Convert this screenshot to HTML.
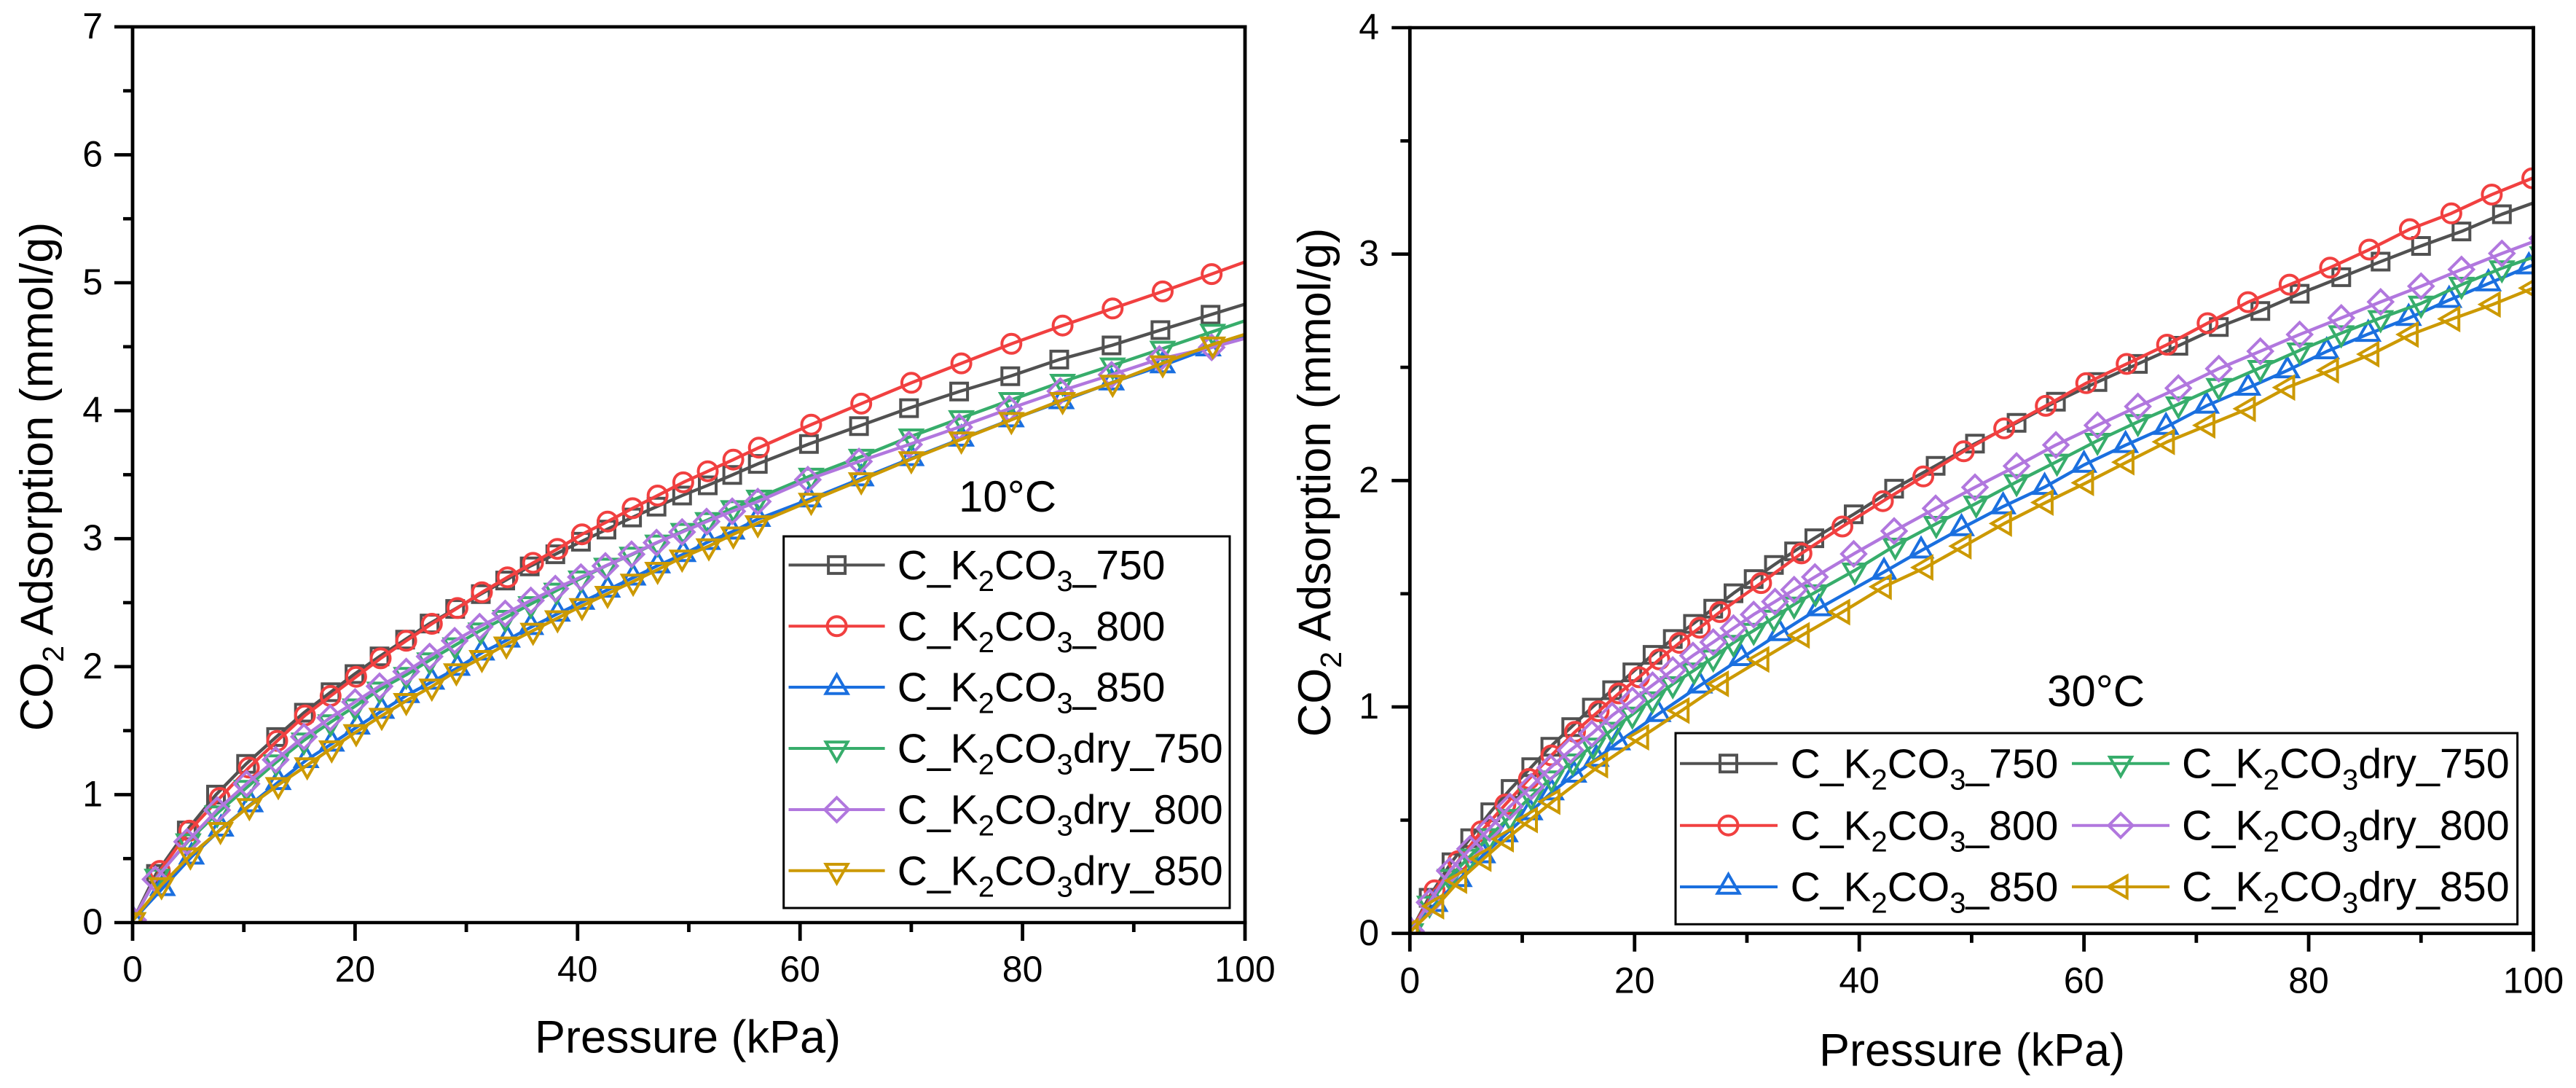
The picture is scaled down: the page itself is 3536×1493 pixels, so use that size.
<!DOCTYPE html>
<html lang="en">
<head>
<meta charset="utf-8">
<title>CO2 adsorption isotherms at 10°C and 30°C</title>
<style>
html,body{margin:0;padding:0;background:#fff;}
svg{display:block;}
text{font-family:"Liberation Sans",Arial,sans-serif;fill:#000;}
.tick{font-size:50px;}
.axt{font-size:63px;}
.ann{font-size:60px;}
.lg{font-size:57px;}
.lg2{font-size:57.4px;}
</style>
</head>
<body>
<svg id="figure" xmlns="http://www.w3.org/2000/svg" width="3536" height="1493" viewBox="0 0 3536 1493">
<rect width="3536" height="1493" fill="#ffffff"/>
<defs>
<clipPath id="clip-left"><rect x="182" y="37.3" width="1527" height="1228.7"/></clipPath>
<clipPath id="clip-right"><rect x="1935.3" y="38" width="1542.2" height="1242.8"/></clipPath>
</defs>

<g id="left-series" clip-path="url(#clip-left)"></g>
<g id="left-axes"></g>
<g id="right-series" clip-path="url(#clip-right)"></g>
<g id="right-axes"></g>

<text class="axt" x="944" y="1444.6" text-anchor="middle">Pressure (kPa)</text>
<text class="axt" x="2707" y="1462.5" text-anchor="middle">Pressure (kPa)</text>
<text class="axt" transform="translate(72 654) rotate(-90)" text-anchor="middle">CO<tspan font-size="41" dy="15">2</tspan><tspan dy="-15"> Adsorption (mmol/g)</tspan></text>
<text class="axt" transform="translate(1826 662) rotate(-90)" text-anchor="middle">CO<tspan font-size="41" dy="15">2</tspan><tspan dy="-15"> Adsorption (mmol/g)</tspan></text>

<text class="ann" x="1383" y="702" text-anchor="middle">10°C</text>
<text class="ann" x="2877" y="969" text-anchor="middle">30°C</text>

<g>
<rect x="1075.7" y="736" width="612.3" height="510" fill="#fff" stroke="#000" stroke-width="3"/>
<g>
<line x1="1082.5" x2="1214.6" y1="775.4" y2="775.4" stroke="#515151" stroke-width="4"/>
<path transform="translate(1148.6 775.4)" d="M-11.5-11.5H11.5V11.5H-11.5Z" fill="none" stroke="#515151" stroke-width="4"/>
<text class="lg" x="1231.8" y="795">C_K<tspan font-size="40" dy="16">2</tspan><tspan dy="-16">CO</tspan><tspan font-size="40" dy="16">3</tspan><tspan dy="-16">_750</tspan></text>
</g>
<g>
<line x1="1082.5" x2="1214.6" y1="859.3" y2="859.3" stroke="#F14040" stroke-width="4"/>
<circle cx="1148.6" cy="859.3" r="13" fill="none" stroke="#F14040" stroke-width="4"/>
<text class="lg" x="1231.8" y="879">C_K<tspan font-size="40" dy="16">2</tspan><tspan dy="-16">CO</tspan><tspan font-size="40" dy="16">3</tspan><tspan dy="-16">_800</tspan></text>
</g>
<g>
<line x1="1082.5" x2="1214.6" y1="943" y2="943" stroke="#1A6FDF" stroke-width="4"/>
<path transform="translate(1148.6 943)" d="M0-17.3L15 8.7H-15Z" fill="none" stroke="#1A6FDF" stroke-width="4"/>
<text class="lg" x="1231.8" y="962.6">C_K<tspan font-size="40" dy="16">2</tspan><tspan dy="-16">CO</tspan><tspan font-size="40" dy="16">3</tspan><tspan dy="-16">_850</tspan></text>
</g>
<g>
<line x1="1082.5" x2="1214.6" y1="1027" y2="1027" stroke="#37AD6B" stroke-width="4"/>
<path transform="translate(1148.6 1027)" d="M0 17.3L15-8.7H-15Z" fill="none" stroke="#37AD6B" stroke-width="4"/>
<text class="lg" x="1231.8" y="1046.6">C_K<tspan font-size="40" dy="16">2</tspan><tspan dy="-16">CO</tspan><tspan font-size="40" dy="16">3</tspan><tspan dy="-16">dry_750</tspan></text>
</g>
<g>
<line x1="1082.5" x2="1214.6" y1="1111" y2="1111" stroke="#B177DE" stroke-width="4"/>
<path transform="translate(1148.6 1111)" d="M0-16.5L16.5 0L0 16.5L-16.5 0Z" fill="none" stroke="#B177DE" stroke-width="4"/>
<text class="lg" x="1231.8" y="1130.6">C_K<tspan font-size="40" dy="16">2</tspan><tspan dy="-16">CO</tspan><tspan font-size="40" dy="16">3</tspan><tspan dy="-16">dry_800</tspan></text>
</g>
<g>
<line x1="1082.5" x2="1214.6" y1="1194.7" y2="1194.7" stroke="#CC9900" stroke-width="4"/>
<path transform="translate(1148.6 1194.7)" d="M0 17.3L15-8.7H-15Z" fill="none" stroke="#CC9900" stroke-width="4"/>
<text class="lg" x="1231.8" y="1214.3">C_K<tspan font-size="40" dy="16">2</tspan><tspan dy="-16">CO</tspan><tspan font-size="40" dy="16">3</tspan><tspan dy="-16">dry_850</tspan></text>
</g>
</g>

<g>
<rect x="2300" y="1006" width="1155.6" height="262.3" fill="#fff" stroke="#000" stroke-width="3"/>
<g>
<line x1="2306" x2="2440" y1="1047.7" y2="1047.7" stroke="#515151" stroke-width="4"/>
<path transform="translate(2372.5 1047.7)" d="M-11.5-11.5H11.5V11.5H-11.5Z" fill="none" stroke="#515151" stroke-width="4"/>
<text class="lg" x="2457.6" y="1067.3">C_K<tspan font-size="40" dy="16">2</tspan><tspan dy="-16">CO</tspan><tspan font-size="40" dy="16">3</tspan><tspan dy="-16">_750</tspan></text>
</g>
<g>
<line x1="2306" x2="2440" y1="1132.7" y2="1132.7" stroke="#F14040" stroke-width="4"/>
<circle cx="2372.5" cy="1132.7" r="13" fill="none" stroke="#F14040" stroke-width="4"/>
<text class="lg" x="2457.6" y="1152.3">C_K<tspan font-size="40" dy="16">2</tspan><tspan dy="-16">CO</tspan><tspan font-size="40" dy="16">3</tspan><tspan dy="-16">_800</tspan></text>
</g>
<g>
<line x1="2306" x2="2440" y1="1217" y2="1217" stroke="#1A6FDF" stroke-width="4"/>
<path transform="translate(2372.5 1217)" d="M0-17.3L15 8.7H-15Z" fill="none" stroke="#1A6FDF" stroke-width="4"/>
<text class="lg" x="2457.6" y="1236.6">C_K<tspan font-size="40" dy="16">2</tspan><tspan dy="-16">CO</tspan><tspan font-size="40" dy="16">3</tspan><tspan dy="-16">_850</tspan></text>
</g>
<g>
<line x1="2844" x2="2978" y1="1047.7" y2="1047.7" stroke="#37AD6B" stroke-width="4"/>
<path transform="translate(2911 1047.7)" d="M0 17.3L15-8.7H-15Z" fill="none" stroke="#37AD6B" stroke-width="4"/>
<text class="lg2" x="2995" y="1067.3">C_K<tspan font-size="40" dy="16">2</tspan><tspan dy="-16">CO</tspan><tspan font-size="40" dy="16">3</tspan><tspan dy="-16">dry_750</tspan></text>
</g>
<g>
<line x1="2844" x2="2978" y1="1132.7" y2="1132.7" stroke="#B177DE" stroke-width="4"/>
<path transform="translate(2911 1132.7)" d="M0-16.5L16.5 0L0 16.5L-16.5 0Z" fill="none" stroke="#B177DE" stroke-width="4"/>
<text class="lg2" x="2995" y="1152.3">C_K<tspan font-size="40" dy="16">2</tspan><tspan dy="-16">CO</tspan><tspan font-size="40" dy="16">3</tspan><tspan dy="-16">dry_800</tspan></text>
</g>
<g>
<line x1="2844" x2="2978" y1="1217" y2="1217" stroke="#CC9900" stroke-width="4"/>
<path transform="translate(2911 1217)" d="M-17.3 0L8.7-15V15Z" fill="none" stroke="#CC9900" stroke-width="4"/>
<text class="lg2" x="2995" y="1236.6">C_K<tspan font-size="40" dy="16">2</tspan><tspan dy="-16">CO</tspan><tspan font-size="40" dy="16">3</tspan><tspan dy="-16">dry_850</tspan></text>
</g>
</g>
</svg>

<script>
// Tick values
const xMajorTicks = [0, 20, 40, 60, 80, 100];
const xMinorTicks = [10, 30, 50, 70, 90];
const leftYMajorTicks = [0, 1, 2, 3, 4, 5, 6, 7];
const leftYMinorTicks = [0.5, 1.5, 2.5, 3.5, 4.5, 5.5, 6.5];
const rightYMajorTicks = [0, 1, 2, 3, 4];
const rightYMinorTicks = [0.5, 1.5, 2.5, 3.5];

// 10°C panel: pressure (kPa) and adsorption (mmol/g)
const left750P = [.05,2.1,4.87,7.5,10.2,12.9,15.4,17.8,19.95,22.2,24.5,26.7,29,31.3,33.5,35.7,38,40.3,42.6,44.9,47.1,49.4,51.7,53.9,56.2,60.8,65.3,69.8,74.3,78.9,83.3,88,92.4,96.9,101.4];
const left750Q = [.02,.38,.72,1.0,1.24,1.45,1.64,1.80,1.942,2.08,2.211,2.337,2.451,2.567,2.673,2.783,2.878,2.976,3.071,3.166,3.25,3.337,3.417,3.498,3.584,3.74,3.88,4.02,4.15,4.27,4.40,4.51,4.63,4.75,4.87];
const left800P = [.05,2.45,5.1,7.84,10.45,13,15.5,17.8,20.1,22.3,24.6,26.9,29.2,31.4,33.7,36,38.2,40.4,42.7,44.95,47.2,49.5,51.7,54,56.3,61,65.5,70,74.5,79,83.6,88.1,92.6,97,101.5];
const left800Q = [.02,.404,.718,.974,1.211,1.42,1.619,1.771,1.921,2.065,2.202,2.335,2.458,2.581,2.698,2.811,2.92,3.034,3.134,3.238,3.337,3.44,3.527,3.618,3.711,3.891,4.055,4.218,4.37,4.523,4.666,4.799,4.932,5.068,5.21];
const left850P = [.05,2.7,5.3,7.95,10.6,13.1,15.6,17.9,20.2,22.4,24.65,26.9,29.2,31.4,33.7,35.8,38.2,40.4,42.7,45,47.2,49.5,51.7,53.9,56.2,60.8,65.5,70,74.5,79,83.5,88,92.6,96.7,101.2];
const left850Q = [.02,.268,.514,.733,.923,1.097,1.268,1.397,1.53,1.653,1.777,1.881,1.989,2.109,2.21,2.308,2.413,2.505,2.60,2.695,2.79,2.878,2.973,3.054,3.153,3.305,3.47,3.628,3.78,3.931,4.073,4.22,4.353,4.486,4.62];
const leftDry750P = [.05,2.2,5,7.6,10.24,12.9,15.4,17.8,20,22.2,24.6,26.7,29,31.3,33.5,35.8,38.1,40.3,42.6,44.9,47.2,49.5,51.7,54,56.3,61,65.5,70,74.5,79,83.6,88.1,92.6,97.1,101.6];
const leftDry750Q = [.02,.36,.636,.854,1.054,1.253,1.424,1.566,1.69,1.822,1.936,2.05,2.168,2.284,2.382,2.49,2.595,2.69,2.79,2.876,2.971,3.062,3.147,3.24,3.322,3.493,3.641,3.80,3.943,4.085,4.227,4.355,4.486,4.618,4.75];
const leftDry800P = [.05,2.05,4.9,7.6,10.24,12.86,15.4,17.77,20,22.2,24.6,26.7,28.95,31.2,33.5,35.8,38,40.3,42.5,44.85,47.1,49.4,51.6,53.9,56.2,60.7,65.3,69.8,74.3,78.8,83.4,88,92.3,97,101.5];
const leftDry800Q = [.02,.338,.632,.879,1.084,1.272,1.452,1.6,1.724,1.847,1.961,2.079,2.202,2.312,2.416,2.517,2.61,2.70,2.787,2.878,2.969,3.052,3.134,3.214,3.29,3.461,3.603,3.736,3.872,4.015,4.153,4.281,4.404,4.495,4.60];
const leftDry850P = [.05,2.6,5.2,7.9,10.5,13.1,15.7,17.9,20.1,22.4,24.6,26.9,29.1,31.4,33.6,36,38.2,40.4,42.7,45,47.2,49.4,51.8,54,56.2,61,65.5,70,74.5,79,83.6,88.1,92.6,97.1,101.6];
const leftDry850Q = [.02,.294,.526,.725,.911,1.076,1.23,1.363,1.49,1.617,1.733,1.845,1.965,2.069,2.174,2.282,2.379,2.475,2.57,2.665,2.758,2.853,2.942,3.034,3.122,3.297,3.458,3.622,3.777,3.929,4.085,4.22,4.372,4.518,4.64];

// 30°C panel: pressure (kPa) and adsorption (mmol/g)
const right750P = [.1,1.67,3.7,5.37,7.16,8.97,10.8,12.5,14.36,16.2,18,19.8,21.6,23.4,25.2,27,28.8,30.6,32.4,34.2,36,39.5,43.1,46.8,50.3,54,57.5,61.2,64.8,68.4,72,75.7,79.2,82.9,86.4,90,93.6,97.2,100.8];
const right750Q = [.01,.157,.314,.42,.535,.638,.734,.824,.911,.997,1.074,1.153,1.23,1.30,1.367,1.434,1.502,1.565,1.627,1.687,1.745,1.851,1.964,2.065,2.163,2.255,2.348,2.435,2.515,2.595,2.678,2.749,2.825,2.898,2.967,3.036,3.10,3.176,3.24];
const right800P = [.1,2.2,4.3,6.36,8.5,10.6,12.6,14.7,16.8,18.6,20.4,22.2,24,25.8,27.6,31.26,34.85,38.5,42.1,45.7,49.3,52.9,56.6,60.2,63.8,67.4,71,74.6,78.3,81.9,85.4,89,92.7,96.3,99.9,103.5];
const right800Q = [.01,.19,.319,.451,.569,.682,.786,.89,.981,1.06,1.131,1.21,1.283,1.35,1.419,1.547,1.678,1.797,1.909,2.018,2.129,2.23,2.33,2.43,2.515,2.60,2.695,2.788,2.865,2.94,3.02,3.11,3.18,3.263,3.335,3.41];
const right850P = [.1,2.25,4.4,6.5,8.5,10.7,12.6,14.6,16.6,18.5,22.1,25.8,29.5,32.9,36.4,42.2,45.5,49.1,52.8,56.5,60,63.7,67.3,70.9,74.6,78.1,81.6,85.3,88.9,92.5,96,99.6,103.2];
const right850Q = [.01,.129,.239,.344,.437,.534,.622,.70,.77,.843,.968,1.094,1.215,1.325,1.435,1.596,1.69,1.789,1.885,1.971,2.069,2.156,2.236,2.33,2.409,2.486,2.57,2.647,2.717,2.797,2.870,2.945,3.01];
const rightDry750P = [.1,1.75,3.55,5.35,7.1,8.9,10.8,12.6,14.5,16.3,18,19.8,21.6,23.4,25.3,27,28.8,30.6,32.4,34.2,36.1,39.6,43.2,46.85,50.4,54,57.6,61.2,64.8,68.4,72,75.7,79.2,82.9,86.4,90,93.6,97.2,100.8];
const rightDry750Q = [.01,.132,.25,.34,.43,.515,.605,.685,.76,.83,.90,.967,1.034,1.101,1.162,1.219,1.284,1.337,1.395,1.453,1.507,1.603,1.713,1.809,1.899,1.994,2.084,2.176,2.259,2.337,2.418,2.498,2.575,2.651,2.718,2.782,2.865,2.938,3.0];
const rightDry800P = [.1,1.75,3.55,5.35,7.1,8.9,10.8,12.5,14.3,16.2,18,19.8,21.6,23.4,25.2,27,28.8,30.6,32.5,34.2,36.05,39.5,43.1,46.8,50.3,54,57.5,61.2,64.8,68.4,72,75.7,79.2,82.9,86.4,90,93.6,97.2,100.8];
const rightDry800Q = [.01,.137,.276,.373,.464,.560,.648,.732,.809,.882,.962,1.029,1.096,1.163,1.227,1.286,1.348,1.408,1.465,1.518,1.574,1.676,1.777,1.877,1.970,2.064,2.157,2.244,2.327,2.408,2.494,2.571,2.645,2.718,2.789,2.858,2.932,3.003,3.07];
const rightDry850P = [.1,2.36,4.4,6.57,8.56,10.7,12.7,16.95,20.6,24.2,27.7,31.3,34.9,38.5,42.2,45.9,49.3,52.9,56.6,60.2,63.8,67.4,71,74.6,78.1,82,85.6,89.1,92.8,96.4,100,103.6];
const rightDry850Q = [.01,.12,.233,.33,.416,.501,.582,.743,.866,.984,1.102,1.21,1.316,1.419,1.531,1.616,1.71,1.81,1.903,1.99,2.081,2.171,2.244,2.317,2.411,2.487,2.558,2.645,2.714,2.778,2.85,2.92];

const SVG_NS = 'http://www.w3.org/2000/svg';

// Axis functions
function leftX(v) { return 182 + v * 15.27; }
function leftY(v) { return 1266 - v * 175.6; }
function rightX(v) { return 1935.3 + v * 15.422; }
function rightY(v) { return 1280.8 - v * 310.7; }

const markerPaths = {
  square: 'M-11.5-11.5H11.5V11.5H-11.5Z',
  circle: 'M-13 0A13 13 0 1 1 13 0A13 13 0 1 1-13 0Z',
  up: 'M0-17.3L15 8.7H-15Z',
  down: 'M0 17.3L15-8.7H-15Z',
  diamond: 'M0-16.5L16.5 0L0 16.5L-16.5 0Z',
  left: 'M-17.3 0L8.7-15V15Z'
};

function drawSeries(parent, key, xs, ys, color, marker, fx, fy) {
  const g = document.createElementNS(SVG_NS, 'g');
  
  
  const pts = xs.map(function (p, i) { return fx(p).toFixed(1) + ',' + fy(ys[i]).toFixed(1); }).join(' ');
  const line = document.createElementNS(SVG_NS, 'polyline');
  
  
  line.setAttribute('points', pts);
  line.setAttribute('fill', 'none');
  line.setAttribute('stroke', color);
  line.setAttribute('stroke-width', '4.4');
  line.setAttribute('stroke-linejoin', 'round');
  g.appendChild(line);
  xs.forEach(function (p, i) {
    const m = document.createElementNS(SVG_NS, 'path');
    
    
    m.setAttribute('d', markerPaths[marker]);
    m.setAttribute('transform', 'translate(' + fx(p).toFixed(1) + ' ' + fy(ys[i]).toFixed(1) + ')');
    m.setAttribute('fill', 'none');
    m.setAttribute('stroke', color);
    m.setAttribute('stroke-width', '4');
    g.appendChild(m);
  });
  parent.appendChild(g);
}

function addLine(parent, name, x1, y1, x2, y2, w) {
  const l = document.createElementNS(SVG_NS, 'line');
  
  
  l.setAttribute('x1', x1);
  l.setAttribute('y1', y1);
  l.setAttribute('x2', x2);
  l.setAttribute('y2', y2);
  l.setAttribute('stroke', '#000');
  l.setAttribute('stroke-width', w);
  parent.appendChild(l);
}

function addLabel(parent, name, x, y, anchor, value) {
  const t = document.createElementNS(SVG_NS, 'text');
  
  
  t.setAttribute('class', 'tick');
  t.setAttribute('x', x);
  t.setAttribute('y', y);
  t.setAttribute('text-anchor', anchor);
  t.textContent = String(value);
  parent.appendChild(t);
}

function drawAxes(parent, fx, fy, yMaj, yMin, yMaxVal, xLabelBase, yLabelRight) {
  const x0 = fx(0), x1 = fx(100), y0 = fy(0), yT = fy(yMaxVal);
  addLine(parent, 'top-axis-line', x0 - 25, yT, x1 + 2.4, yT, 4.6);
  addLine(parent, 'bottom-axis-line', x0 - 25, y0, x1 + 2.4, y0, 4.6);
  addLine(parent, 'y-axis-line', x0, yT - 2.3, x0, y0 + 25, 4.8);
  addLine(parent, 'right-axis-line', x1, yT - 2.3, x1, y0 + 25, 4.8);
  xMajorTicks.forEach(function (v) {
    if (v > 0 && v < 100) addLine(parent, 'x-major-tick', fx(v), y0, fx(v), y0 + 25, 4.8);
    addLabel(parent, 'x-tick-label', fx(v), xLabelBase, 'middle', v);
  });
  xMinorTicks.forEach(function (v) {
    addLine(parent, 'x-minor-tick', fx(v), y0, fx(v), y0 + 13, 4.8);
  });
  yMaj.forEach(function (v) {
    if (v > 0 && v < yMaxVal) addLine(parent, 'y-major-tick', x0 - 25, fy(v), x0, fy(v), 4.6);
    addLabel(parent, 'y-tick-label', yLabelRight, fy(v) + 16, 'end', v);
  });
  yMin.forEach(function (v) {
    addLine(parent, 'y-minor-tick', x0 - 13, fy(v), x0, fy(v), 4.6);
  });
}

const colorK750 = '#515151', colorK800 = '#F14040', colorK850 = '#1A6FDF';
const colorDry750 = '#37AD6B', colorDry800 = '#B177DE', colorDry850 = '#CC9900';

const leftSeries = document.getElementById('left-series');
drawSeries(leftSeries, 'left-series-k2co3-750', left750P, left750Q, colorK750, 'square', leftX, leftY);
drawSeries(leftSeries, 'left-series-k2co3-800', left800P, left800Q, colorK800, 'circle', leftX, leftY);
drawSeries(leftSeries, 'left-series-k2co3-850', left850P, left850Q, colorK850, 'up', leftX, leftY);
drawSeries(leftSeries, 'left-series-k2co3dry-750', leftDry750P, leftDry750Q, colorDry750, 'down', leftX, leftY);
drawSeries(leftSeries, 'left-series-k2co3dry-800', leftDry800P, leftDry800Q, colorDry800, 'diamond', leftX, leftY);
drawSeries(leftSeries, 'left-series-k2co3dry-850', leftDry850P, leftDry850Q, colorDry850, 'down', leftX, leftY);

const rightSeries = document.getElementById('right-series');
drawSeries(rightSeries, 'right-series-k2co3-750', right750P, right750Q, colorK750, 'square', rightX, rightY);
drawSeries(rightSeries, 'right-series-k2co3-800', right800P, right800Q, colorK800, 'circle', rightX, rightY);
drawSeries(rightSeries, 'right-series-k2co3-850', right850P, right850Q, colorK850, 'up', rightX, rightY);
drawSeries(rightSeries, 'right-series-k2co3dry-750', rightDry750P, rightDry750Q, colorDry750, 'down', rightX, rightY);
drawSeries(rightSeries, 'right-series-k2co3dry-800', rightDry800P, rightDry800Q, colorDry800, 'diamond', rightX, rightY);
drawSeries(rightSeries, 'right-series-k2co3dry-850', rightDry850P, rightDry850Q, colorDry850, 'left', rightX, rightY);

drawAxes(document.getElementById('left-axes'), leftX, leftY, leftYMajorTicks, leftYMinorTicks, 7, 1347, 141);
drawAxes(document.getElementById('right-axes'), rightX, rightY, rightYMajorTicks, rightYMinorTicks, 4, 1362.7, 1893);
</script>
</body>
</html>
